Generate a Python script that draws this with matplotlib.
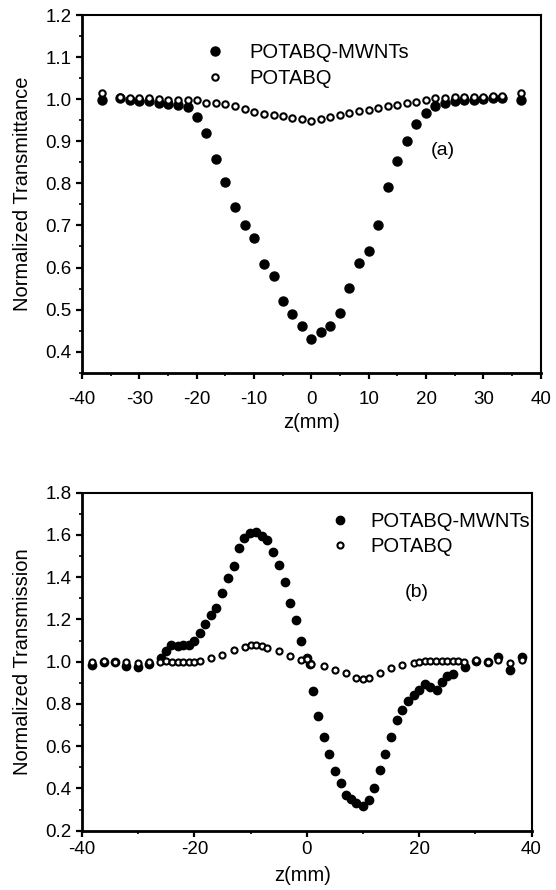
"""
Z-scan curves: open aperture (a) and closed aperture (b) for POTABQ-MWNTs vs POTABQ.
"""
import matplotlib
matplotlib.use('Agg')
import matplotlib.pyplot as plt
from matplotlib.ticker import MultipleLocator

plt.rcParams['font.family'] = ['Liberation Sans', 'DejaVu Sans']
plt.rcParams['axes.unicode_minus'] = False

# (a) open aperture
z_a = [-36.6, -33.3, -31.6, -30.0, -28.3, -26.6, -25.0, -23.3, -21.6, -20.0,
       -18.3, -16.6, -15.0, -13.3, -11.6, -10.0, -8.3, -6.6, -5.0, -3.3,
       -1.6, 0.0, 1.6, 3.3, 5.0, 6.6, 8.3, 10.0, 11.6, 13.3,
       15.0, 16.6, 18.3, 20.0, 21.6, 23.3, 25.0, 26.6, 28.3, 30.0,
       31.6, 33.3, 36.6]
mwnt_a = [0.997, 1.002, 0.999, 0.995, 0.996, 0.992, 0.988, 0.986, 0.982, 0.958,
          0.920, 0.859, 0.804, 0.744, 0.700, 0.669, 0.609, 0.581, 0.520, 0.490,
          0.460, 0.430, 0.446, 0.460, 0.491, 0.551, 0.611, 0.640, 0.700, 0.791,
          0.852, 0.900, 0.941, 0.967, 0.983, 0.990, 0.995, 0.997, 0.998, 1.000,
          1.002, 1.003, 0.998]
potabq_a = [1.015, 1.005, 1.004, 1.003, 1.002, 1.000, 0.999, 0.998, 0.997, 0.998,
            0.992, 0.990, 0.988, 0.984, 0.976, 0.970, 0.966, 0.963, 0.960, 0.956,
            0.953, 0.949, 0.953, 0.958, 0.963, 0.968, 0.972, 0.975, 0.979, 0.983,
            0.987, 0.991, 0.993, 0.997, 1.003, 1.004, 1.005, 1.005, 1.006, 1.006,
            1.007, 1.007, 1.015]

# (b) closed aperture
z_b_mwnt = [-38.2, -36.1, -34.1, -32.1, -30.1, -28.1,
            -26.0, -25.1, -24.2, -23.0, -22.0, -21.0, -20.1, -19.0, -18.1, -17.1,
            -16.1, -15.0, -14.0, -13.0, -12.0, -11.1,
            -10.1, -9.1, -8.0, -7.0, -6.0, -4.9, -3.9, -3.0, -2.0, -1.0,
            0.0, 0.5, 1.1, 2.0, 3.0, 4.0, 5.0, 6.1, 7.0, 7.9, 8.8,
            10.0, 11.0, 12.0, 13.1, 14.0, 15.0, 16.1, 17.0, 18.0, 19.0,
            20.0, 21.0, 22.0, 23.1, 24.0, 25.0, 26.1,
            28.1, 30.2, 32.2, 34.1, 36.2, 38.3]
mwnt_b = [0.984, 0.997, 0.997, 0.981, 0.976, 0.987,
          1.016, 1.052, 1.081, 1.074, 1.081, 1.079, 1.099, 1.138, 1.177, 1.223,
          1.256, 1.326, 1.397, 1.455, 1.538, 1.584,
          1.608, 1.615, 1.596, 1.577, 1.518, 1.458, 1.376, 1.278, 1.199, 1.097,
          1.019, 0.990, 0.862, 0.741, 0.644, 0.561, 0.482, 0.424, 0.369, 0.349, 0.330,
          0.318, 0.344, 0.404, 0.486, 0.561, 0.642, 0.722, 0.773, 0.812, 0.843,
          0.867, 0.893, 0.882, 0.867, 0.903, 0.933, 0.942,
          0.976, 1.004, 1.000, 1.024, 0.961, 1.024]
z_b_pot = [-38.2, -36.1, -34.1, -32.1, -30.1, -28.1,
           -26.1, -25.0, -24.0, -23.0, -22.0, -21.0, -20.0, -19.0,
           -17.0, -15.0, -13.0, -11.0, -10.0, -9.0, -8.0, -7.0,
           -5.0, -3.0, -1.0, 0.0, 0.8, 3.0, 5.0, 7.0, 8.8, 10.0, 11.0,
           13.0, 15.0, 17.0, 19.0,
           20.0, 21.0, 22.0, 23.0, 24.0, 25.0, 26.0, 27.0, 28.0,
           30.2, 32.2, 34.1, 36.2, 38.3]
potabq_b = [1.000, 1.005, 1.000, 0.998, 0.995, 1.000,
            1.000, 1.005, 1.000, 0.998, 0.998, 0.998, 1.000, 1.002,
            1.016, 1.034, 1.055, 1.071, 1.079, 1.081, 1.075, 1.066,
            1.052, 1.028, 1.008, 1.012, 0.987, 0.981, 0.961, 0.945, 0.921, 0.919, 0.921,
            0.945, 0.968, 0.984, 0.995,
            1.000, 1.003, 1.005, 1.005, 1.005, 1.005, 1.005, 1.005, 1.000,
            1.008, 1.000, 1.008, 0.992, 1.008]

labels = ['POTABQ-MWNTs', 'POTABQ']


def style_axes(ax, xpad, ypad):
    for side in ['left', 'bottom']:
        ax.spines[side].set_linewidth(2.0)
    for side in ['top', 'right']:
        ax.spines[side].set_linewidth(1.5)
    ax.tick_params(which='major', direction='out', length=4.5, width=1.6,
                   labelsize=13.5, top=False, right=False)
    ax.tick_params(which='minor', direction='out', length=2.5, width=1.2,
                   top=False, right=False)
    ax.tick_params(axis='x', which='major', pad=xpad)
    ax.tick_params(axis='y', which='major', pad=ypad)


fig = plt.figure(figsize=(5.56, 8.90), dpi=100)

# ---- (a)
ax1 = fig.add_axes([0.1475, 0.5812, 0.825, 0.4019])
ax1.plot(z_a, mwnt_a, 'o', ms=6.5, mfc='black', mec='black', ls='none', label=labels[0])
ax1.plot(z_a, potabq_a, 'o', ms=4.6, mfc='white', mec='black', mew=1.5, ls='none', label=labels[1])
ax1.set_xlim(-40, 40)
ax1.set_ylim(0.35, 1.2)
ax1.xaxis.set_major_locator(MultipleLocator(10))
ax1.xaxis.set_minor_locator(MultipleLocator(5))
ax1.yaxis.set_major_locator(MultipleLocator(0.1))
ax1.yaxis.set_minor_locator(MultipleLocator(0.05))
ax1.yaxis.set_major_formatter(plt.FormatStrFormatter('%.1f'))
style_axes(ax1, 9, 3)
ax1.set_xlabel('z(mm)', fontsize=14.5)
ax1.set_ylabel('Normalized Transmittance', fontsize=14.5)
ax1.xaxis.set_label_coords(0.5, -0.112)
ax1.yaxis.set_label_coords(-0.109, 0.5)
ax1.legend(loc='upper left', bbox_to_anchor=(0.268, 0.923), frameon=False,
           fontsize=14.5, borderpad=0, handlelength=1.0, handletextpad=1.2,
           labelspacing=0.35, borderaxespad=0)
ax1.text(23.0, 0.879, '(a)', fontsize=14, ha='center', va='center')

# ---- (b)
ax2 = fig.add_axes([0.1475, 0.0666, 0.8085, 0.3798])
ax2.plot(z_b_mwnt, mwnt_b, 'o', ms=6.0, mfc='black', mec='black', ls='none', label=labels[0])
ax2.plot(z_b_pot, potabq_b, 'o', ms=4.4, mfc='white', mec='black', mew=1.5, ls='none', label=labels[1])
ax2.set_xlim(-40, 40)
ax2.set_ylim(0.2, 1.8)
ax2.xaxis.set_major_locator(MultipleLocator(20))
ax2.xaxis.set_minor_locator(MultipleLocator(10))
ax2.yaxis.set_major_locator(MultipleLocator(0.2))
ax2.yaxis.set_minor_locator(MultipleLocator(0.1))
ax2.yaxis.set_major_formatter(plt.FormatStrFormatter('%.1f'))
style_axes(ax2, 3, 3)
ax2.set_xlabel('z(mm)', fontsize=14.5)
ax2.set_ylabel('Normalized Transmission', fontsize=14.5)
ax2.xaxis.set_label_coords(0.49, -0.104)
ax2.yaxis.set_label_coords(-0.111, 0.5)
ax2.legend(loc='upper left', bbox_to_anchor=(0.552, 0.943), frameon=False,
           fontsize=14.5, borderpad=0, handlelength=1.0, handletextpad=1.0,
           labelspacing=0.3, borderaxespad=0)
ax2.text(19.6, 1.327, '(b)', fontsize=14, ha='center', va='center')

fig.savefig('out.png', dpi=100)
